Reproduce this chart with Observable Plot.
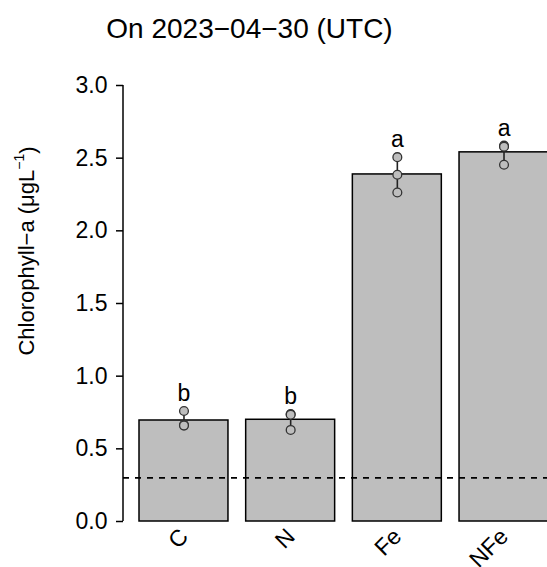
<!DOCTYPE html>
<html>
<head>
<meta charset="utf-8">
<script src="https://cdn.jsdelivr.net/npm/d3@7"></script>
<script src="https://cdn.jsdelivr.net/npm/@observablehq/plot@0.6"></script>
<style>
  html, body { margin: 0; padding: 0; background: #fff; overflow: hidden; }
  #chart { width: 547px; height: 567px; }
  svg { font-family: "Liberation Sans", Arial, Helvetica, sans-serif; }
</style>
</head>
<body>
<div id="chart"></div>
<script>
// ---- data ----
const title = "On 2023\u221204\u221230 (UTC)";
const categories = ["C", "N", "Fe", "NFe"];
const means = [0.695, 0.700, 2.388, 2.540];
const replicates = [
  [0.760, 0.665, 0.660],
  [0.740, 0.735, 0.630],
  [2.507, 2.386, 2.264],
  [2.586, 2.579, 2.455]
];
const letters = ["b", "b", "a", "a"];
const threshold = 0.3;
const yTicks = [0, 0.5, 1.0, 1.5, 2.0, 2.5, 3.0];

// ---- derived tables ----
const bars = categories.map((c, i) => ({cat: c, mean: means[i]}));
const points = categories.flatMap((c, i) => replicates[i].map(v => ({cat: c, value: v})));
const ranges = categories.map((c, i) => ({cat: c, lo: d3.min(replicates[i]), hi: d3.max(replicates[i]), letter: letters[i]}));

const FONT = 23;

function yAxisLine(index, scales, values, dimensions) {
  const g = d3.create("svg:g");
  const x = dimensions.marginLeft;
  g.append("line")
    .attr("x1", x).attr("x2", x)
    .attr("y1", scales.y(0)).attr("y2", scales.y(3))
    .attr("stroke", "black").attr("stroke-width", 1.5);
  return g.node();
}

function yLabel(index, scales, values, dimensions) {
  const t = d3.create("svg:text")
    .attr("transform", "translate(34,251) rotate(-90)")
    .attr("text-anchor", "middle")
    .attr("font-size", 22)
    .attr("fill", "black");
  t.append("tspan").text("Chlorophyll\u2212a (\u03BCgL");
  t.append("tspan").attr("font-size", 14).attr("dy", "-0.75em").text("\u22121");
  t.append("tspan").attr("dy", "0.5em").text(")");
  return t.node();
}

const chart = Plot.plot({
  width: 547,
  height: 567,
  marginTop: 85,
  marginBottom: 46,
  marginLeft: 123,
  marginRight: 0,
  style: {fontFamily: "Liberation Sans, Arial, sans-serif", background: "white", overflow: "hidden"},
  x: {domain: categories, range: [139, 548], paddingInner: 0.166, paddingOuter: 0, round: false, axis: null},
  y: {domain: [0, 3], axis: null},
  marks: [
    Plot.barY(bars, {x: "cat", y: "mean", fill: "#bebebe", stroke: "black", strokeWidth: 1.5}),
    Plot.ruleY([threshold], {stroke: "black", strokeWidth: 1.8, strokeDasharray: "6,6"}),
    Plot.ruleX(ranges, {x: "cat", y1: "lo", y2: "hi", stroke: "#222", strokeWidth: 1.6}),
    Plot.dot(points, {x: "cat", y: "value", r: 4.4, fill: "#bebebe", stroke: "#333", strokeWidth: 1.3}),
    Plot.text(ranges, {x: "cat", y: "hi", text: "letter", dy: -10, lineAnchor: "bottom", fontSize: FONT, fill: "black"}),
    Plot.axisY({ticks: yTicks, tickFormat: d3.format(".1f"), tickSize: 7, tickPadding: 9, fontSize: FONT, label: null, stroke: "black", strokeWidth: 1.5, color: "black"}),
    yAxisLine,
    Plot.text(categories, {x: d => d, frameAnchor: "bottom", rotate: -45, textAnchor: "end", lineAnchor: "top", dx: -6, dy: 5, fontSize: FONT, fill: "black"}),
    Plot.text([title], {frameAnchor: "top-left", dx: 249 - 123, dy: 37 - 85, textAnchor: "middle", lineAnchor: "bottom", fontSize: 28, fill: "black"}),
    yLabel
  ]
});
document.getElementById("chart").appendChild(chart);
</script>
</body>
</html>
